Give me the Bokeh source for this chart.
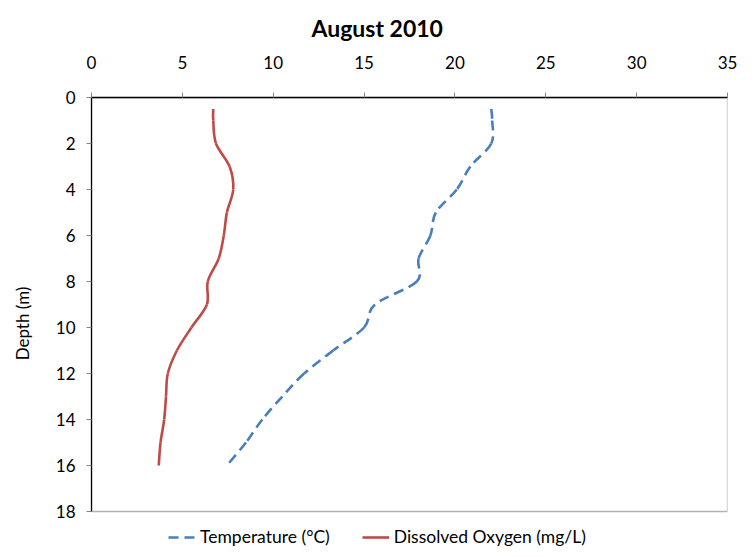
from bokeh.plotting import figure
from bokeh.models import Range1d, FixedTicker, Legend, LegendItem, Title, ColumnDataSource, BoxAnnotation
from bokeh.embed import file_html
from bokeh.resources import INLINE

depth = [0.5, 1, 2, 3, 4, 5, 6, 7, 8, 9, 10, 11, 12, 13, 14, 15, 16]
temperature = [22.0, 22.05, 22.0, 20.85, 20.1, 18.95, 18.65, 18.0, 17.9, 15.6, 15.0, 13.3, 11.7, 10.5, 9.4, 8.5, 7.45]
dissolved_oxygen = [6.7, 6.7, 6.85, 7.6, 7.8, 7.45, 7.28, 7.0, 6.4, 6.35, 5.5, 4.7, 4.2, 4.1, 4.0, 3.8, 3.7]
x_ticks = [0, 5, 10, 15, 20, 25, 30, 35]
y_ticks = [0, 2, 4, 6, 8, 10, 12, 14, 16, 18]
X_MIN, X_MAX = 0, 35
DEPTH_MIN, DEPTH_MAX = 0, 18

FONT = "Lato"

# layout (pixels)
W, H = 745, 549
TOP, LEFT, RIGHT = 97, 91, 18
BOX_PX = 414                      # pixel height of the 0..18 m plot box
frame_px = H - TOP
y_end = DEPTH_MAX * frame_px / BOX_PX   # frame extends below the box to hold the legend


def smooth_source(xs, ys):
    # Excel-style smoothed line: cubic Bezier segments between consecutive data points
    n = len(xs)
    d = dict(x0=[], y0=[], x1=[], y1=[], cx0=[], cy0=[], cx1=[], cy1=[])
    for i in range(n - 1):
        xp, yp = (xs[i - 1], ys[i - 1]) if i > 0 else (xs[i], ys[i])
        xn, yn = (xs[i + 2], ys[i + 2]) if i + 2 < n else (xs[i + 1], ys[i + 1])
        d["x0"].append(xs[i]); d["y0"].append(ys[i])
        d["x1"].append(xs[i + 1]); d["y1"].append(ys[i + 1])
        d["cx0"].append(xs[i] + (xs[i + 1] - xp) / 6.0)
        d["cy0"].append(ys[i] + (ys[i + 1] - yp) / 6.0)
        d["cx1"].append(xs[i + 1] - (xn - xs[i]) / 6.0)
        d["cy1"].append(ys[i + 1] - (yn - ys[i]) / 6.0)
    return ColumnDataSource(d)


p = figure(width=W, height=H, output_backend="svg", toolbar_location=None,
           x_range=Range1d(X_MIN, X_MAX), y_range=Range1d(y_end, DEPTH_MIN),
           x_axis_location="above", min_border_left=LEFT, min_border_right=RIGHT,
           min_border_top=TOP, min_border_bottom=0)
p.title = Title(text="August 2010", align="left", text_font=FONT,
                text_font_size="23px", text_font_style="bold", text_color="black",
                offset=220, standoff=21)
p.grid.visible = False
p.outline_line_color = None
p.background_fill_color = "white"
p.border_fill_color = "white"

# plot box (0..35 x 0..18 m)
p.add_layout(BoxAnnotation(left=X_MIN, right=X_MAX, top=DEPTH_MIN, bottom=DEPTH_MAX,
                           fill_alpha=0, line_color="black", line_width=1.3))

for ax in p.xaxis + p.yaxis:
    ax.axis_line_color = "black"
    ax.axis_line_width = 1.3
    ax.major_tick_line_color = "#868686"
    ax.major_tick_in = 0
    ax.major_tick_out = 5
    ax.minor_tick_line_color = None
    ax.major_label_text_font = FONT
    ax.major_label_text_font_size = "17px"
    ax.major_label_text_color = "black"

p.xaxis.bounds = (X_MIN, X_MAX)
p.yaxis.bounds = (DEPTH_MIN, DEPTH_MAX)
p.xaxis.major_label_standoff = 24
p.yaxis.major_label_standoff = 11
p.xaxis.ticker = FixedTicker(ticks=x_ticks)
p.yaxis.ticker = FixedTicker(ticks=y_ticks)
p.yaxis.axis_label = "Depth (m)"
p.yaxis.axis_label_text_font = FONT
p.yaxis.axis_label_text_font_size = "17px"
p.yaxis.axis_label_text_font_style = "normal"
p.yaxis.axis_label_text_color = "black"
p.yaxis.axis_label_standoff = 20

r1 = p.bezier(x0="x0", y0="y0", x1="x1", y1="y1", cx0="cx0", cy0="cy0", cx1="cx1", cy1="cy1",
              source=smooth_source(temperature, depth),
              line_color="#4A7EBB", line_width=2.6, line_dash="10 6")
r2 = p.bezier(x0="x0", y0="y0", x1="x1", y1="y1", cx0="cx0", cy0="cy0", cx1="cx1", cy1="cy1",
              source=smooth_source(dissolved_oxygen, depth),
              line_color="#BE4B48", line_width=2.6)

legend = Legend(items=[LegendItem(label="Temperature (°C)", renderers=[r1]),
                       LegendItem(label="Dissolved Oxygen (mg/L)", renderers=[r2])],
                orientation="horizontal", location=(77, 2),
                border_line_color=None, background_fill_alpha=0,
                label_text_font=FONT, label_text_font_size="17.5px", label_text_color="black",
                glyph_width=27, glyph_height=20, label_standoff=5, spacing=32, padding=0, margin=0)
p.add_layout(legend, "center")

open("out.html", "w").write(file_html(p, INLINE))
